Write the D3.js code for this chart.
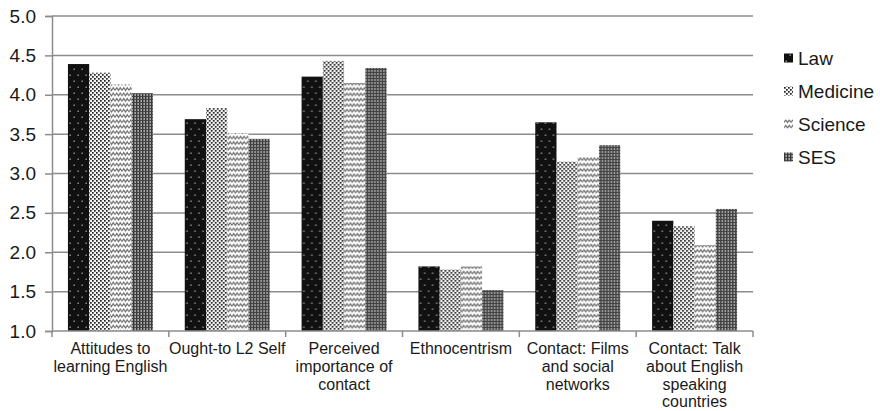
<!DOCTYPE html>
<html>
<head>
<meta charset="utf-8">
<script src="https://cdn.jsdelivr.net/npm/d3@7"></script>
<style>
  html, body { margin: 0; padding: 0; background: #fff; }
  svg { display: block; }
  text { font-family: "Liberation Sans", Arial, Helvetica, sans-serif; fill: #1a1a1a; }
</style>
</head>
<body>
<svg id="chart" width="880" height="411"></svg>
<script>
// Motivation scale means by faculty
const categories = [
  ["Attitudes to", "learning English"],
  ["Ought-to L2 Self"],
  ["Perceived", "importance of", "contact"],
  ["Ethnocentrism"],
  ["Contact: Films", "and social", "networks"],
  ["Contact: Talk", "about English", "speaking", "countries"]
];
const seriesNames = ["Law", "Medicine", "Science", "SES"];
const law      = [4.39, 3.69, 4.23, 1.82, 3.65, 2.40];
const medicine = [4.28, 3.83, 4.43, 1.78, 3.15, 2.33];
const science  = [4.13, 3.51, 4.15, 1.82, 3.21, 2.09];
const ses      = [4.02, 3.44, 4.34, 1.52, 3.36, 2.55];
const yTicks = [1.0, 1.5, 2.0, 2.5, 3.0, 3.5, 4.0, 4.5, 5.0];

const seriesValues = [law, medicine, science, ses];
const catKeys = categories.map(c => c.join(" "));

const svg = d3.select("#chart");
const plotLeft = 52, plotRight = 753, plotTop = 16, plotBottom = 331;

const defs = svg.append("defs");

// Law: black with sparse light dots
const pLaw = defs.append("pattern").attr("id", "pat-law").attr("patternUnits", "userSpaceOnUse")
  .attr("width", 8).attr("height", 12);
pLaw.append("rect").attr("width", 8).attr("height", 12).attr("fill", "#111");
pLaw.append("rect").attr("x", 1.5).attr("y", 2.5).attr("width", 1.4).attr("height", 1.4).attr("fill", "#9a9a9a");
pLaw.append("rect").attr("x", 5.5).attr("y", 8.5).attr("width", 1.4).attr("height", 1.4).attr("fill", "#9a9a9a");

// Medicine: fine checker of dark dots
const pMed = defs.append("pattern").attr("id", "pat-med").attr("patternUnits", "userSpaceOnUse")
  .attr("width", 4).attr("height", 4);
pMed.append("rect").attr("width", 4).attr("height", 4).attr("fill", "#f4f4f4");
pMed.append("rect").attr("x", 0).attr("y", 0).attr("width", 1.7).attr("height", 1.7).attr("fill", "#222");
pMed.append("rect").attr("x", 2).attr("y", 2).attr("width", 1.7).attr("height", 1.7).attr("fill", "#222");

// Science: grey wavy lines
const pSci = defs.append("pattern").attr("id", "pat-sci").attr("patternUnits", "userSpaceOnUse")
  .attr("width", 7).attr("height", 5.4);
pSci.append("rect").attr("width", 7).attr("height", 5.4).attr("fill", "#fff");
pSci.append("path").attr("d", "M0,4 L1.75,1.3 L3.5,4 L5.25,1.3 L7,4")
  .attr("fill", "none").attr("stroke", "#6e6e6e").attr("stroke-width", 1.2);

// SES: dense dark grid
const pSes = defs.append("pattern").attr("id", "pat-ses").attr("patternUnits", "userSpaceOnUse")
  .attr("width", 3).attr("height", 3);
pSes.append("rect").attr("width", 3).attr("height", 3).attr("fill", "#a8a8a8");
pSes.append("rect").attr("x", 0).attr("y", 0).attr("width", 1.4).attr("height", 3).attr("fill", "#333");
pSes.append("rect").attr("x", 0).attr("y", 0).attr("width", 3).attr("height", 1).attr("fill", "#444");

const fills = ["url(#pat-law)", "url(#pat-med)", "url(#pat-sci)", "url(#pat-ses)"];

const y = d3.scaleLinear().domain([1, 5]).range([plotBottom, plotTop]);
const x0 = d3.scaleBand().domain(catKeys).range([plotLeft, plotRight]).paddingInner(0).paddingOuter(0);
const x1 = d3.scaleBand().domain(seriesNames).range([0, x0.bandwidth()]).paddingInner(0).paddingOuter(0.75);

// Gridlines
svg.append("g").selectAll("line").data(yTicks.filter(t => t > 1)).join("line")
  .attr("x1", plotLeft).attr("x2", plotRight)
  .attr("y1", d => y(d)).attr("y2", d => y(d))
  .attr("stroke", "#8c8c8c").attr("stroke-width", 1.5);

// Bars
const groups = svg.append("g").selectAll("g").data(catKeys).join("g")
  .attr("transform", d => `translate(${x0(d)},0)`);
groups.selectAll("rect")
  .data((d, i) => seriesNames.map((s, j) => ({ s, j, v: seriesValues[j][i] })))
  .join("rect")
  .attr("x", d => x1(d.s))
  .attr("width", x1.bandwidth())
  .attr("y", d => y(d.v))
  .attr("height", d => y(1) - y(d.v))
  .attr("fill", d => fills[d.j]);

// Y axis
const yAxis = svg.append("g").attr("transform", `translate(${plotLeft},0)`)
  .call(d3.axisLeft(y).tickValues(yTicks).tickFormat(d3.format(".1f")).tickSize(7).tickPadding(9));
yAxis.select(".domain").attr("stroke", "#8c8c8c").attr("stroke-width", 1.5);
yAxis.selectAll(".tick line").attr("stroke", "#8c8c8c").attr("stroke-width", 1.5);
yAxis.selectAll(".tick text").attr("font-size", 19).attr("fill", "#1a1a1a")
  .attr("font-family", "'Liberation Sans', Arial, sans-serif");

// X axis line and boundary ticks
svg.append("line").attr("x1", plotLeft).attr("x2", plotRight).attr("y1", plotBottom).attr("y2", plotBottom)
  .attr("stroke", "#8c8c8c").attr("stroke-width", 1.5);
const bounds = catKeys.map(k => x0(k)).concat([plotRight]);
svg.append("g").selectAll("line").data(bounds).join("line")
  .attr("x1", d => d).attr("x2", d => d).attr("y1", plotBottom).attr("y2", plotBottom + 6)
  .attr("stroke", "#8c8c8c").attr("stroke-width", 1.5);

// Category labels
const labels = svg.append("g").selectAll("text").data(categories).join("text")
  .attr("text-anchor", "middle").attr("font-size", 16)
  .attr("x", (d, i) => x0(catKeys[i]) + x0.bandwidth() / 2)
  .attr("y", 354);
labels.selectAll("tspan").data(d => d).join("tspan")
  .attr("x", function () { return d3.select(this.parentNode).attr("x"); })
  .attr("dy", (d, i) => i === 0 ? 0 : 17.8)
  .text(d => d);

// Legend
const legend = svg.append("g").selectAll("g").data(seriesNames).join("g")
  .attr("transform", (d, i) => `translate(784,${58 + i * 33})`);
legend.append("rect").attr("x", 0).attr("y", -4.5).attr("width", 9).attr("height", 9)
  .attr("fill", (d, i) => fills[i]);
legend.append("text").attr("x", 14).attr("y", 6.8).attr("font-size", 19).text(d => d);
</script>
</body>
</html>
